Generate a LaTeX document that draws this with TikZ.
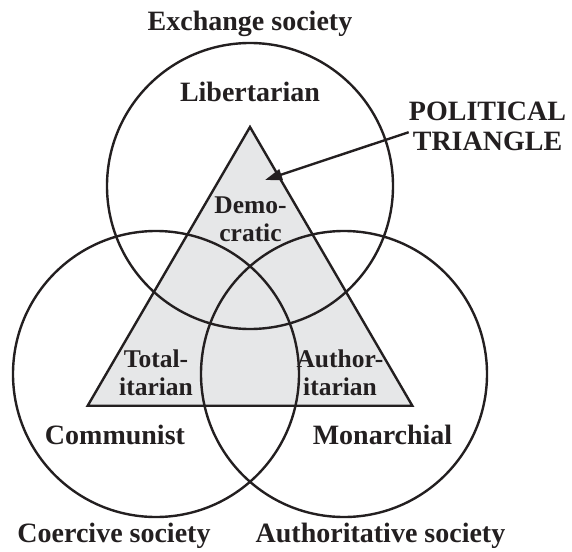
\documentclass[tikz,border=0pt]{standalone}
\usepackage{fontspec}
\setmainfont{Liberation Serif}
\usetikzlibrary{arrows.meta,positioning}
\definecolor{ink}{HTML}{231F20}
\definecolor{trifill}{HTML}{E6E7E8}
\tikzset{
	society/.style={circle, draw=ink, line width=2.4pt, minimum size=286pt, inner sep=0pt},
	biglabel/.style={text=ink, font=\bfseries\fontsize{28}{29.3}\selectfont, align=center, anchor=base, inner sep=0pt},
	smalllabel/.style={text=ink, font=\bfseries\fontsize{25.5}{28.5}\selectfont, align=center, anchor=base, inner sep=0pt},
	pointer/.style={draw=ink, line width=2.4pt, -{Triangle[length=17pt,width=11pt]}}
}

\begin{document}
\begin{tikzpicture}[x=1pt, y=-1pt]
	\useasboundingbox (0,0) rectangle (572,551);
	
	% political triangle
	\coordinate (apex) at (250,127);
	\coordinate (bl) at (87.7,405.7);
	\coordinate (br) at (412.3,405.7);
	\draw[fill=trifill, draw=ink, line width=2.4pt] (apex) -- (bl) -- (br) -- cycle;
	
	% the three societies
	\node[society] (lib) at (250,186) {};
	\node[society] (com) at (156,374) {};
	\node[society] (mon) at (344,374) {};
	
	\node[biglabel] (exch) at (250,31) {Exchange society};
	\node[biglabel] (libl) at (250,101.7) {Libertarian};
	\node[biglabel] (coml) at (115,444) {Communist};
	\node[biglabel] (monl) at (382.5,444) {Monarchial};
	\node[biglabel] (coer) at (114,542.7) {Coercive society};
	\node[biglabel] (auth) at (380.5,542.7) {Authoritative society};
	
	% base anchor sits on the last line
	\node[smalllabel] (dem) at (250.5,241.7) {Demo-\\cratic};
	\node[smalllabel] (tot) at (156,395.5) {Total-\\itarian};
	\node[smalllabel] (aut) at (340,395.5) {Author-\\itarian};
	
	\node[biglabel] (pt) at (487.5,150) {POLITICAL\\TRIANGLE};
	\coordinate (tip) at (265,180);
	\draw[pointer] ([yshift=-6pt]pt.west) -- (tip);
\end{tikzpicture}
\end{document}
